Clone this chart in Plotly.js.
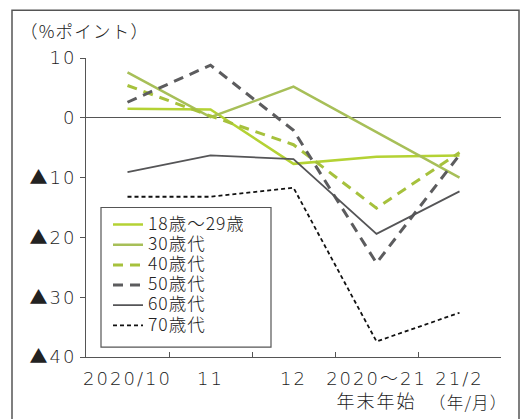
<!DOCTYPE html>
<html>
<head>
<meta charset="utf-8">
<script src="https://cdn.plot.ly/plotly-3.0.1.min.js"></script>
<style>
html,body{margin:0;padding:0;background:#fff;}
#chart{width:522px;height:419px;}
#chart .xtick text, #chart .ytick text { letter-spacing: 2px; }
#chart .legendtext { letter-spacing: 1px; }
#chart .gtitle, #chart .annotation-text { letter-spacing: 1.2px; }
</style>
</head>
<body>
<div id="chart"></div>
<script>
const categories = ["2020/10", "11", "12", "2020〜21<br>年末年始", "21/2"];
const seriesNames = ["18歳〜29歳", "30歳代", "40歳代", "50歳代", "60歳代", "70歳代"];
const age18to29 = [1.5, 1.4, -7.7, -6.5, -6.3];
const age30s = [7.6, 0.1, 5.2, -2.4, -10.0];
const age40s = [5.4, 0.3, -4.5, -15.1, -5.8];
const age50s = [2.6, 8.8, -2.1, -24.3, -6.2];
const age60s = [-9.1, -6.3, -6.9, -19.4, -12.3];
const age70s = [-13.2, -13.2, -11.7, -37.4, -32.6];
const yTickVals = [-40, -30, -20, -10, 0, 10];
const yTickText = ["▲40", "▲30", "▲20", "▲10", "0", "10"];

const seriesValues = [age18to29, age30s, age40s, age50s, age60s, age70s];
const styles = [
  {color: "#b4d234", width: 2.5, dash: "solid"},
  {color: "#a7bf58", width: 2.5, dash: "solid"},
  {color: "#a6c13c", width: 3, dash: "10px,7px"},
  {color: "#5c5c5e", width: 3, dash: "10px,7px"},
  {color: "#555557", width: 1.8, dash: "solid"},
  {color: "#111111", width: 1.8, dash: "4px,3px"}
];

const traces = seriesNames.map((n, i) => ({
  type: "scatter",
  mode: "lines",
  name: '<span style="font-size:17.5px">' + n + '</span>',
  x: categories,
  y: seriesValues[i],
  line: styles[i],
  hoverinfo: "skip"
}));

const fontFam = "DejaVu Sans, Noto Sans CJK JP, sans-serif";
const jpFam = "Noto Sans CJK JP, sans-serif";
const textColor = "#222222";
const axisColor = "#555555";
const px2x = p => (p - 86) / 415;
const px2y = p => (357 - p) / 300;

const layout = {
  width: 522,
  height: 419,
  margin: {l: 86, r: 21, t: 58, b: 62},
  paper_bgcolor: "#ffffff",
  plot_bgcolor: "#ffffff",
  font: {family: fontFam, size: 17, color: textColor, weight: 300},
  showlegend: true,
  legend: {
    x: px2x(108), y: px2y(209), xanchor: "left", yanchor: "top",
    borderwidth: 0,
    bgcolor: "rgba(0,0,0,0)",
    font: {family: jpFam, size: 13.2, color: textColor, weight: 300},
    tracegroupgap: 0,
    itemwidth: 30
  },
  title: {
    text: "（%ポイント）",
    x: 20/522, xref: "container", xanchor: "left",
    y: 1 - 32/419, yref: "container", yanchor: "middle",
    font: {family: jpFam, size: 17.5, color: textColor, weight: 300}
  },
  xaxis: {
    type: "category",
    range: [-0.5, 4.5],
    tickangle: 0,
    showline: true, linecolor: axisColor, linewidth: 1,
    ticks: "inside", tickson: "boundaries", ticklen: 5, tickcolor: axisColor,
    ticklabelstandoff: 5,
    showgrid: false, zeroline: false,
    tickfont: {family: fontFam, size: 18, color: textColor, weight: 300},
    fixedrange: true
  },
  yaxis: {
    range: [-40, 10],
    tickvals: yTickVals, ticktext: yTickText,
    showline: true, linecolor: axisColor, linewidth: 1,
    ticks: "outside", ticklen: 5, tickcolor: axisColor,
    showgrid: false,
    zeroline: true, zerolinecolor: axisColor, zerolinewidth: 1,
    tickfont: {family: fontFam, size: 18, color: textColor, weight: 300},
    fixedrange: true
  },
  annotations: [{
    text: "（年/月）",
    xref: "paper", yref: "paper",
    x: px2x(468), y: px2y(402),
    xanchor: "center", yanchor: "middle",
    showarrow: false,
    font: {family: jpFam, size: 16.5, color: textColor, weight: 300}
  }],
  shapes: [{
    type: "rect", xref: "paper", yref: "paper",
    x0: px2x(12), x1: px2x(519),
    y0: px2y(430), y1: px2y(9),
    line: {color: "#555555", width: 1.5},
    fillcolor: "rgba(0,0,0,0)",
    layer: "below"
  }, {
    type: "rect", xref: "paper", yref: "paper",
    x0: px2x(101), x1: px2x(271),
    y0: px2y(347), y1: px2y(207),
    line: {color: "#555555", width: 1.2},
    fillcolor: "#ffffff",
    layer: "above"
  }]
};

Plotly.newPlot("chart", traces, layout, {displayModeBar: false, staticPlot: true});
</script>
</body>
</html>
